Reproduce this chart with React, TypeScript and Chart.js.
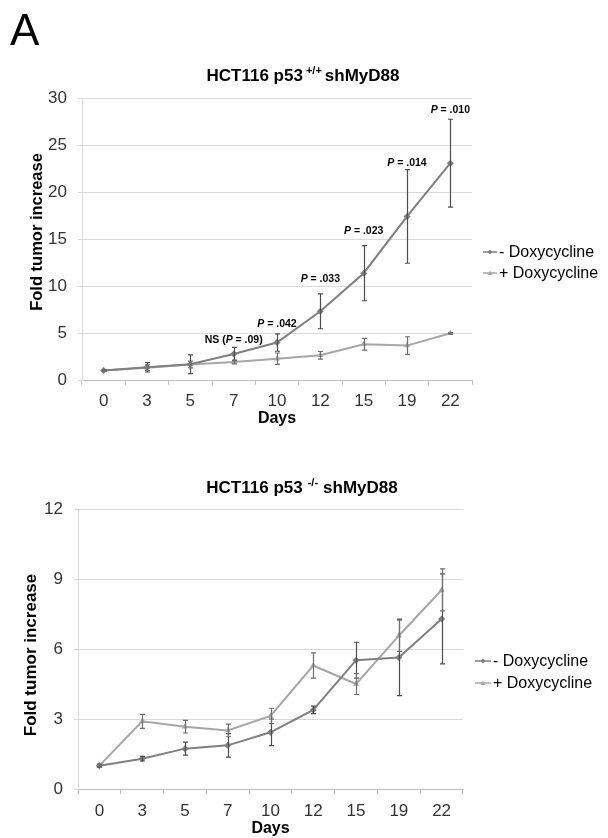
import React, { useEffect, useRef } from 'react';
import { Chart, registerables } from 'chart.js';

Chart.register(...registerables);

const FONT = "'Liberation Sans', Arial, Helvetica, sans-serif";

// ---------------- data ----------------
const days = ['0', '3', '5', '7', '10', '12', '15', '19', '22'];
const seriesNames = ['- Doxycycline', '+ Doxycycline'];

// HCT116 p53+/+ shMyD88
const wtMinus = [1.0, 1.35, 1.67, 2.77, 3.98, 7.31, 11.36, 17.4, 23.07];
const wtMinusErr = [0.08, 0.5, 1.0, 0.7, 0.92, 1.86, 2.93, 4.98, 4.67];
const wtPlus = [1.0, 1.3, 1.65, 1.92, 2.27, 2.63, 3.8, 3.66, 4.97];
const wtPlusErr = [0.08, 0.3, 0.35, 0.2, 0.6, 0.4, 0.62, 0.94, 0.08];
const wtYMax = 30;
const wtYStep = 5;

// significance labels (top chart)
const wtPIndex = [3, 4, 5, 6, 7, 8];
const wtPY = [4.26, 5.93, 10.72, 15.87, 23.07, 28.68];
const wtPPrefix = ['NS (', '', '', '', '', ''];
const wtPValue = ['.09', '.042', '.033', '.023', '.014', '.010'];
const wtPSuffix = [')', '', '', '', '', ''];

// HCT116 p53-/- shMyD88
const koMinus = [1.0, 1.3, 1.73, 1.87, 2.43, 3.39, 5.52, 5.64, 7.29];
const koMinusErr = [0.06, 0.1, 0.28, 0.5, 0.57, 0.16, 0.77, 1.64, 1.93];
const koPlus = [1.0, 2.9, 2.67, 2.51, 3.13, 5.29, 4.5, 6.57, 8.53];
const koPlusErr = [0.06, 0.3, 0.27, 0.27, 0.33, 0.54, 0.45, 0.67, 0.9];
const koYMax = 12;
const koYStep = 3;

const yAxisTitle = 'Fold tumor increase';
const xAxisTitle = 'Days';

// ---------------- styles ----------------
const MINUS_COLOR = '#7f7f7f';
const PLUS_COLOR = '#a6a6a6';
const MINUS_ERR = '#4d4d4d';
const PLUS_ERR = '#6e6e6e';

function drawMarker(ctx: CanvasRenderingContext2D, style: string, x: number, y: number, r: number, color: string) {
  ctx.save();
  ctx.fillStyle = color;
  ctx.beginPath();
  if (style === 'rectRot') {
    ctx.moveTo(x, y - r);
    ctx.lineTo(x + r, y);
    ctx.lineTo(x, y + r);
    ctx.lineTo(x - r, y);
  } else {
    ctx.moveTo(x, y - r);
    ctx.lineTo(x + r, y + r * 0.75);
    ctx.lineTo(x - r, y + r * 0.75);
  }
  ctx.closePath();
  ctx.fill();
  ctx.restore();
}

const errorBarPlugin = {
  id: 'errorBars',
  afterDatasetsDraw(chart: any, _args: any, opts: any) {
    const ctx = chart.ctx as CanvasRenderingContext2D;
    const yScale = chart.scales.y;
    chart.data.datasets.forEach((ds: any, i: number) => {
      const errs: number[] = opts.errors[i];
      const meta = chart.getDatasetMeta(i);
      ctx.save();
      ctx.strokeStyle = opts.colors[i];
      ctx.lineWidth = 1.2;
      meta.data.forEach((pt: any, j: number) => {
        const v = ds.data[j];
        const e = errs[j];
        const x = Math.round(pt.x) + 0.5;
        const y1 = yScale.getPixelForValue(v + e);
        const y2 = yScale.getPixelForValue(v - e);
        ctx.beginPath();
        ctx.moveTo(x, y1);
        ctx.lineTo(x, y2);
        ctx.moveTo(x - 2.5, y1);
        ctx.lineTo(x + 2.5, y1);
        ctx.moveTo(x - 2.5, y2);
        ctx.lineTo(x + 2.5, y2);
        ctx.stroke();
      });
      ctx.restore();
    });
  },
};

const pLabelPlugin = {
  id: 'pLabels',
  afterDraw(chart: any, _args: any, opts: any) {
    if (!opts || !opts.index) return;
    const ctx = chart.ctx as CanvasRenderingContext2D;
    const xs = chart.scales.x;
    const ys = chart.scales.y;
    const size = opts.size;
    const fBold = `bold ${size}px ${FONT}`;
    const fIt = `italic bold ${size}px ${FONT}`;
    ctx.save();
    ctx.fillStyle = '#000';
    ctx.textBaseline = 'middle';
    ctx.textAlign = 'left';
    opts.index.forEach((idx: number, k: number) => {
      const parts = [
        [opts.prefix[k], fBold],
        ['P', fIt],
        [' = ' + opts.value[k] + opts.suffix[k], fBold],
      ];
      let total = 0;
      const widths = parts.map(([t, f]) => {
        ctx.font = f;
        const w = ctx.measureText(t).width;
        total += w;
        return w;
      });
      let x = xs.getPixelForValue(idx) - total / 2;
      const y = ys.getPixelForValue(opts.y[k]);
      parts.forEach(([t, f], n) => {
        ctx.font = f;
        ctx.fillText(t, x, y);
        x += widths[n];
      });
    });
    ctx.restore();
  },
};

const legendPlugin = {
  id: 'sideLegend',
  afterDraw(chart: any, _args: any, opts: any) {
    const ctx = chart.ctx as CanvasRenderingContext2D;
    ctx.save();
    chart.data.datasets.forEach((ds: any, i: number) => {
      const y = opts.ys[i];
      ctx.strokeStyle = ds.borderColor;
      ctx.lineWidth = 1.5;
      ctx.beginPath();
      ctx.moveTo(opts.x, y);
      ctx.lineTo(opts.x + opts.len, y);
      ctx.stroke();
      drawMarker(ctx, ds.pointStyle, opts.x + opts.len / 2, y, 2.5, ds.borderColor);
      ctx.fillStyle = '#000';
      ctx.font = `${opts.size}px ${FONT}`;
      ctx.textBaseline = 'middle';
      ctx.textAlign = 'left';
      ctx.fillText(ds.label, opts.x + opts.len + opts.gap, y + 1);
    });
    ctx.restore();
  },
};

const titlePlugin = {
  id: 'figTitle',
  afterDraw(chart: any, _args: any, opts: any) {
    const ctx = chart.ctx as CanvasRenderingContext2D;
    ctx.save();
    ctx.fillStyle = '#000';
    ctx.textBaseline = 'alphabetic';
    ctx.textAlign = 'left';
    const big = `bold ${opts.size}px ${FONT}`;
    const small = `bold ${opts.supSize}px ${FONT}`;
    ctx.font = big;
    const w1 = ctx.measureText(opts.main).width;
    const w3 = ctx.measureText(opts.tail).width;
    ctx.font = small;
    const w2 = ctx.measureText(opts.sup).width;
    const gap = opts.gap;
    let x = opts.cx - (w1 + w2 + w3 + gap * 2) / 2;
    ctx.font = big;
    ctx.fillText(opts.main, x, opts.baseline);
    x += w1 + gap;
    ctx.font = small;
    ctx.fillText(opts.sup, x, opts.baseline - opts.supRaise);
    x += w2 + gap;
    ctx.font = big;
    ctx.fillText(opts.tail, x, opts.baseline);

    // vertical axis title
    ctx.save();
    ctx.translate(opts.yTitleX, opts.yTitleY);
    ctx.rotate(-Math.PI / 2);
    ctx.font = `bold ${opts.yTitleSize}px ${FONT}`;
    ctx.textAlign = 'center';
    ctx.textBaseline = 'middle';
    ctx.fillText(yAxisTitle, 0, 0);
    ctx.restore();

    if (opts.letter) {
      ctx.font = `44px ${FONT}`;
      ctx.fillText(opts.letter, 10, 45);
    }
    ctx.restore();
  },
};

function buildConfig(p: any) {
  return {
    type: 'line',
    data: {
      labels: days,
      datasets: [
        {
          label: seriesNames[0],
          data: p.minus,
          borderColor: MINUS_COLOR,
          backgroundColor: MINUS_COLOR,
          borderWidth: 2,
          pointStyle: 'rectRot',
          pointRadius: 3.5,
          pointBorderWidth: 0,
          tension: 0,
        },
        {
          label: seriesNames[1],
          data: p.plus,
          borderColor: PLUS_COLOR,
          backgroundColor: PLUS_COLOR,
          borderWidth: 2,
          pointStyle: 'triangle',
          pointRadius: 3.5,
          pointBorderWidth: 0,
          tension: 0,
        },
      ],
    },
    options: {
      responsive: false,
      maintainAspectRatio: false,
      animation: false,
      events: [],
      layout: { padding: { top: p.padTop, right: p.padRight, left: 0, bottom: 0 } },
      scales: {
        x: {
          type: 'category',
          offset: true,
          grid: {
            offset: true,
            drawOnChartArea: false,
            drawTicks: true,
            tickLength: 5,
            color: '#bfbfbf',
          },
          border: { color: '#bfbfbf' },
          ticks: {
            color: '#333',
            font: { family: FONT, size: 17 },
            padding: p.xTickPad,
            maxRotation: 0,
            autoSkip: false,
          },
          title: {
            display: true,
            text: xAxisTitle,
            color: '#000',
            font: { family: FONT, size: 16, weight: 'bold' },
            padding: { top: 0, bottom: p.xTitlePad },
          },
          afterFit: (s: any) => {
            s.height = p.xHeight;
          },
        },
        y: {
          min: 0,
          max: p.yMax,
          grid: { color: '#d9d9d9', tickLength: 4, drawTicks: true },
          border: { color: '#d9d9d9' },
          ticks: {
            stepSize: p.yStep,
            color: '#333',
            font: { family: FONT, size: 17 },
            padding: 11,
          },
          title: { display: false },
          afterFit: (s: any) => {
            s.width = p.yWidth;
          },
        },
      },
      plugins: {
        legend: { display: false },
        tooltip: { enabled: false },
        title: { display: false },
        errorBars: { errors: [p.minusErr, p.plusErr], colors: [MINUS_ERR, PLUS_ERR] },
        pLabels: p.pLabels || {},
        sideLegend: p.legend,
        figTitle: p.title,
      },
    },
    plugins: [errorBarPlugin, pLabelPlugin, legendPlugin, titlePlugin],
  };
}

function ChartCanvas({ config, width, height, top }: any) {
  const ref = useRef<HTMLCanvasElement>(null);
  useEffect(() => {
    const chart = new Chart(ref.current as HTMLCanvasElement, config as any);
    return () => chart.destroy();
  }, []);
  return (
    <canvas
      ref={ref}
      width={width}
      height={height}
      style={{ position: 'absolute', left: 0, top, width, height, display: 'block' }}
    />
  );
}

export default function App() {
  const topConfig = buildConfig({
    minus: wtMinus,
    minusErr: wtMinusErr,
    plus: wtPlus,
    plusErr: wtPlusErr,
    yMax: wtYMax,
    yStep: wtYStep,
    padTop: 98,
    padRight: 136,
    yWidth: 82,
    xHeight: 50,
    xTickPad: 6,
    xTitlePad: 2,
    pLabels: {
      index: wtPIndex,
      y: wtPY,
      prefix: wtPPrefix,
      value: wtPValue,
      suffix: wtPSuffix,
      size: 10.5,
    },
    legend: { x: 483, len: 14, gap: 2, ys: [252, 273], size: 16 },
    title: {
      cx: 303,
      baseline: 81,
      size: 17,
      supSize: 11,
      supRaise: 7,
      gap: 3,
      main: 'HCT116 p53',
      sup: '+/+',
      tail: 'shMyD88',
      letter: 'A',
      yTitleX: 37,
      yTitleY: 232,
      yTitleSize: 16.5,
    },
  });

  const bottomConfig = buildConfig({
    minus: koMinus,
    minusErr: koMinusErr,
    plus: koPlus,
    plusErr: koPlusErr,
    yMax: koYMax,
    yStep: koYStep,
    padTop: 79,
    padRight: 145,
    yWidth: 78,
    xHeight: 49,
    xTickPad: 7,
    xTitlePad: 0,
    legend: { x: 475, len: 16, gap: 2, ys: [231, 253], size: 16 },
    title: {
      cx: 302,
      baseline: 63,
      size: 17,
      supSize: 11,
      supRaise: 7,
      gap: 5,
      main: 'HCT116 p53',
      sup: '-/-',
      tail: 'shMyD88',
      letter: '',
      yTitleX: 31,
      yTitleY: 225,
      yTitleSize: 17,
    },
  });

  return (
    <div style={{ position: 'absolute', left: 0, top: 0, width: 608, height: 838, background: '#fff' }}>
      <ChartCanvas config={topConfig} width={608} height={430} top={0} />
      <ChartCanvas config={bottomConfig} width={608} height={408} top={430} />
    </div>
  );
}
